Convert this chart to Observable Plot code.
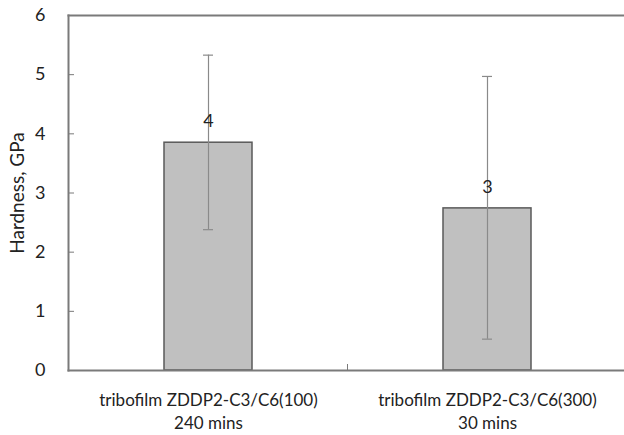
<!DOCTYPE html>
<html>
<head>
<meta charset="utf-8">
<script src="https://cdn.jsdelivr.net/npm/d3@7"></script>
<script src="https://cdn.jsdelivr.net/npm/@observablehq/plot@0.6"></script>
<style>
  html, body { margin: 0; padding: 0; background: #fff; }
  #chart svg { display: block; }
</style>
</head>
<body>
<div id="chart"></div>
<script>
const categories = ["tribofilm ZDDP2-C3/C6(100)\n240 mins", "tribofilm ZDDP2-C3/C6(300)\n30 mins"];
const hardness = [3.85, 2.74];
const errLow = [2.38, 0.53];
const errHigh = [5.33, 4.97];
const yTicks = [0, 1, 2, 3, 4, 5, 6];
const yLabel = ["Hardness, GPa"];

const data = categories.map((c, i) => ({cat: c, value: hardness[i], lo: errLow[i], hi: errHigh[i]}));

const font = "Lato, 'Open Sans', sans-serif";

const boundaryTick = (index, scales, values, dimensions) => {
  const f = typeof scales.x === "function" ? scales.x : scales.scales.x;
  let bw = typeof f.bandwidth === "function" ? f.bandwidth() : f.bandwidth;
  if (bw == null && scales.scales && scales.scales.x && typeof scales.scales.x.bandwidth === "function") bw = scales.scales.x.bandwidth();
  const mid = (f(categories[0]) + f(categories[1]) + bw) / 2;
  const yb = dimensions.height - dimensions.marginBottom;
  const g = d3.create("svg:g");
  g.append("line").attr("x1", mid).attr("x2", mid).attr("y1", yb).attr("y2", yb - 6)
    .attr("stroke", "#7a7a7a").attr("stroke-width", 1);
  return g.node();
};

const chart = Plot.plot({
  width: 624,
  height: 435,
  marginLeft: 68,
  marginTop: 15,
  marginBottom: 65,
  marginRight: 0,
  style: {fontFamily: font, fontSize: "18px", color: "#222", background: "#fff"},
  x: {domain: categories, range: [68, 627], paddingInner: 0.686, paddingOuter: 0.343, label: null},
  y: {domain: [0, 6], label: null},
  marks: [
    Plot.barY(data, {x: "cat", y: "value", fill: "#c0c0c0", stroke: "#5a5a5a", strokeWidth: 1.5}),
    Plot.ruleX(data, {x: "cat", y1: "lo", y2: "hi", stroke: "#8a8a8a", strokeWidth: 1.2}),
    Plot.tickY(data, {x: "cat", y: "lo", stroke: "#8a8a8a", strokeWidth: 1.2, insetLeft: 39, insetRight: 39}),
    Plot.tickY(data, {x: "cat", y: "hi", stroke: "#8a8a8a", strokeWidth: 1.2, insetLeft: 39, insetRight: 39}),
    Plot.text(data, {x: "cat", y: "value", text: d => String(Math.round(d.value)), dy: -21, fontSize: 18, fill: "#222"}),
    Plot.frame({anchor: "left", stroke: "#7a7a7a", strokeWidth: 2}),
    Plot.frame({anchor: "top", stroke: "#7a7a7a", strokeWidth: 2}),
    Plot.frame({anchor: "bottom", stroke: "#7a7a7a", strokeWidth: 2}),
    Plot.axisY({ticks: yTicks, tickSize: 6, dx: 6, text: null, label: null, stroke: "#7a7a7a"}),
    Plot.axisY({ticks: yTicks, tickSize: 0, tickPadding: 23, fontSize: 18, tickFormat: d3.format("d"), label: null}),
    Plot.text(yLabel, {text: d => d, frameAnchor: "left", textAnchor: "middle", rotate: -90, dx: -51, fontSize: 19, fill: "#222"}),
    Plot.axisX({tickSize: 0, tickPadding: 19, fontSize: 17, lineHeight: 1.35, label: null}),
    boundaryTick
  ]
});
document.getElementById("chart").appendChild(chart);
</script>
</body>
</html>
